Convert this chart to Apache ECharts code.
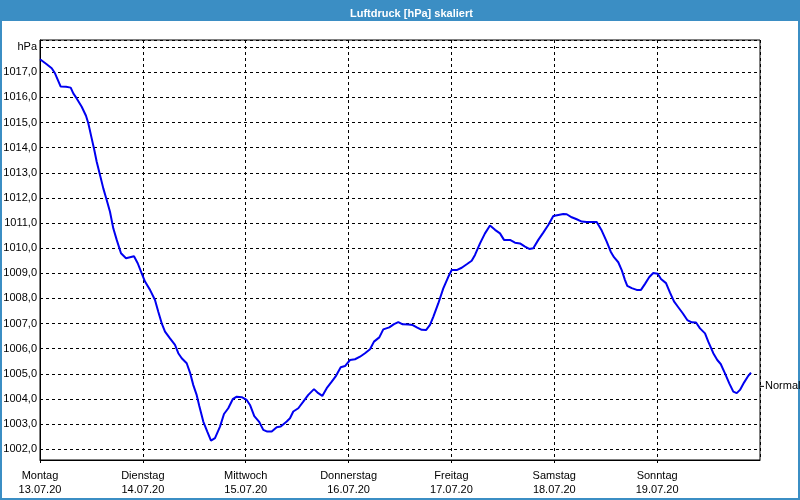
<!DOCTYPE html>
<html>
<head>
<meta charset="utf-8">
<script src="https://cdn.jsdelivr.net/npm/echarts@6/dist/echarts.min.js"></script>
<style>
  html, body { margin: 0; padding: 0; background: #fff; }
  #chart { width: 800px; height: 500px; }
</style>
</head>
<body>
<div id="chart"></div>
<script>
// ---- data ----
const titleText = 'Luftdruck [hPa] skaliert';
const unitLabel = 'hPa';
const dayNames = ['Montag', 'Dienstag', 'Mittwoch', 'Donnerstag', 'Freitag', 'Samstag', 'Sonntag'];
const dayDates = ['13.07.20', '14.07.20', '15.07.20', '16.07.20', '17.07.20', '18.07.20', '19.07.20'];
const normalLabel = 'Normal';
const normalValue = 1004.5;
const yMin = 1001.57;
const yMax = 1018.285;
const unitTickValue = 1018;

// hours since Monday 13.07.20 00:00
const hours = [
  0, 1.56, 2.73, 3.5, 4.83, 6.07, 7.16, 7.77, 8.56, 9.73, 10.73, 11.27, 12.06, 12.67, 13.23, 14.0,
  14.77, 15.56, 16.33, 17.1, 17.9, 18.9, 20.07, 21.0, 21.93, 22.8, 23.73, 24.5, 25.67, 26.83, 27.6,
  28.4, 29.17, 30.33, 31.5, 32.27, 33.07, 34.23, 35.0, 35.77, 36.57, 37.17, 38.1, 39.03, 39.9, 40.83,
  42.0, 42.93, 43.93, 44.97, 45.9, 47.07, 48.23, 49.0, 50.0, 51.1, 52.1, 53.03, 54.07, 55.23, 56.17,
  57.57, 58.33, 59.1, 60.27, 61.43, 62.6, 63.93, 64.93, 65.87, 66.9, 68.07, 69.07, 70.17, 71.17, 72.33,
  73.5, 74.67, 75.83, 77.0, 77.93, 79.17, 80.1, 81.5, 82.6, 83.6, 84.63, 85.93, 86.97, 88.03, 89.07,
  90.07, 91.0, 91.77, 92.93, 94.1, 95.27, 96.07, 97.23, 98.4, 99.57, 100.73, 101.5, 102.67, 103.83,
  105.0, 106.17, 107.33, 108.27, 109.67, 110.83, 112.0, 113.17, 114.17, 115.1, 116.27, 117.43, 118.6,
  119.77, 120.93, 122.1, 122.9, 124.07, 125.23, 126.4, 127.57, 129.9, 131.07, 132.23, 133.17, 133.93,
  134.93, 135.73, 136.5, 137.03, 138.07, 139.23, 140.23, 141.17, 142.17, 143.1, 144.13, 144.9, 146.07,
  147.0, 147.93, 148.93, 149.97, 151.03, 152.07, 153.07, 154.0, 155.17, 155.93, 157.1, 158.03, 158.83,
  159.83, 160.83, 161.77, 162.57, 163.33, 164.27, 165.27, 165.9
];
const pressure = [
  1017.52, 1017.32, 1017.16, 1016.96, 1016.43, 1016.42, 1016.39, 1016.16, 1015.96, 1015.63, 1015.27, 1014.97, 1014.37, 1013.91, 1013.44, 1012.91,
  1012.38, 1011.92, 1011.45, 1010.79, 1010.33, 1009.80, 1009.60, 1009.64, 1009.68, 1009.40, 1009.00, 1008.67, 1008.34, 1007.94, 1007.47,
  1007.01, 1006.68, 1006.41, 1006.15, 1005.82, 1005.62, 1005.42, 1005.05, 1004.55, 1004.15, 1003.72, 1003.10, 1002.70, 1002.34, 1002.44,
  1002.90, 1003.40, 1003.63, 1003.99, 1004.09, 1004.07, 1003.96, 1003.76, 1003.32, 1003.10, 1002.77, 1002.70, 1002.70, 1002.87, 1002.90,
  1003.10, 1003.23, 1003.50, 1003.63, 1003.89, 1004.16, 1004.39, 1004.23, 1004.12, 1004.43, 1004.69, 1004.92, 1005.26, 1005.31, 1005.55,
  1005.58, 1005.68, 1005.82, 1005.98, 1006.28, 1006.45, 1006.77, 1006.85, 1006.98, 1007.06, 1006.97, 1006.96, 1006.94, 1006.84, 1006.75,
  1006.74, 1006.95, 1007.27, 1007.80, 1008.40, 1008.86, 1009.13, 1009.13, 1009.22, 1009.36, 1009.50, 1009.73, 1010.19, 1010.59,
  1010.90, 1010.73, 1010.59, 1010.33, 1010.33, 1010.22, 1010.19, 1010.06, 1009.97, 1010.00, 1010.33, 1010.62, 1010.92,
  1011.28, 1011.32, 1011.36, 1011.35, 1011.23, 1011.15, 1011.06, 1011.04, 1011.04, 1010.70, 1010.26, 1009.86, 1009.64,
  1009.44, 1009.13, 1008.73, 1008.50, 1008.41, 1008.34, 1008.34, 1008.58, 1008.85, 1009.01, 1008.98, 1008.77, 1008.61,
  1008.23, 1007.88, 1007.65, 1007.41, 1007.14, 1007.05, 1007.04, 1006.81, 1006.61, 1006.28, 1005.82, 1005.55, 1005.39,
  1005.02, 1004.62, 1004.29, 1004.23, 1004.36, 1004.65, 1004.92, 1005.05
];

// ---- chart ----
const FONT = '"Liberation Sans", Arial, sans-serif';
const FRAME = '#3b8ec4';
const chart = echarts.init(document.getElementById('chart'), null, { renderer: 'canvas' });
const seriesData = hours.map((h, i) => [h, pressure[i]]);
const hoursPerDay = 24;
const totalHours = dayNames.length * hoursPerDay;

chart.setOption({
  animation: false,
  backgroundColor: '#ffffff',
  title: {
    text: titleText,
    left: 345,
    top: 3,
    textStyle: { color: '#ffffff', fontWeight: 'bold', fontSize: 11, fontFamily: FONT }
  },
  grid: { left: 40, right: 40, top: 40, bottom: 40, show: true, borderColor: '#000', borderWidth: 1 },
  xAxis: {
    type: 'value',
    min: 0,
    max: totalHours,
    interval: hoursPerDay,
    axisLine: { show: true, lineStyle: { color: '#000', width: 1 } },
    axisTick: { show: true, length: 3, lineStyle: { color: '#000' } },
    splitLine: { show: true, lineStyle: { color: '#000', type: [3, 3], width: 1 } },
    axisLabel: {
      showMaxLabel: false,
      margin: 9,
      color: '#000',
      fontFamily: FONT,
      fontSize: 11,
      lineHeight: 14,
      formatter: function (v) {
        const i = Math.round(v / hoursPerDay);
        if (i < 0 || i >= dayNames.length) return '';
        return dayNames[i] + '\n' + dayDates[i];
      }
    }
  },
  yAxis: {
    type: 'value',
    min: yMin,
    max: yMax,
    splitNumber: 16,
    axisLine: { show: true, lineStyle: { color: '#000', width: 1 } },
    axisTick: { show: false },
    splitLine: { show: true, lineStyle: { color: '#000', type: [3, 3], width: 1 } },
    axisLabel: {
      showMinLabel: false,
      showMaxLabel: false,
      margin: 3,
      color: '#000',
      fontFamily: FONT,
      fontSize: 11,
      formatter: function (v) {
        if (Math.abs(v - unitTickValue) < 1e-6) return unitLabel;
        return v.toFixed(1).replace('.', ',');
      }
    }
  },
  series: [{
    type: 'line',
    data: seriesData,
    showSymbol: false,
    symbol: 'none',
    lineStyle: { color: '#0000f0', width: 2 },
    z: 5
  }]
});

// frame, title bar and "Normal" marker, placed via the chart's own scales
const pEnd = chart.convertToPixel({ gridIndex: 0 }, [totalHours, normalValue]);
chart.setOption({
  graphic: [
    { type: 'rect', z: -1, shape: { x: 0, y: 0, width: 800, height: 21 }, style: { fill: FRAME }, silent: true },
    { type: 'rect', z: -1, shape: { x: 0, y: 0, width: 2, height: 500 }, style: { fill: FRAME }, silent: true },
    { type: 'rect', z: -1, shape: { x: 798, y: 0, width: 2, height: 500 }, style: { fill: FRAME }, silent: true },
    { type: 'rect', z: -1, shape: { x: 0, y: 498, width: 800, height: 2 }, style: { fill: FRAME }, silent: true },
    { type: 'line', shape: { x1: pEnd[0], y1: pEnd[1], x2: pEnd[0] + 4, y2: pEnd[1] }, style: { stroke: '#000', lineWidth: 1 }, silent: true },
    { type: 'text', x: pEnd[0] + 5, y: pEnd[1], style: { text: normalLabel, fill: '#000', font: '11px ' + FONT, textVerticalAlign: 'middle', textAlign: 'left' }, silent: true }
  ]
});
</script>
</body>
</html>
